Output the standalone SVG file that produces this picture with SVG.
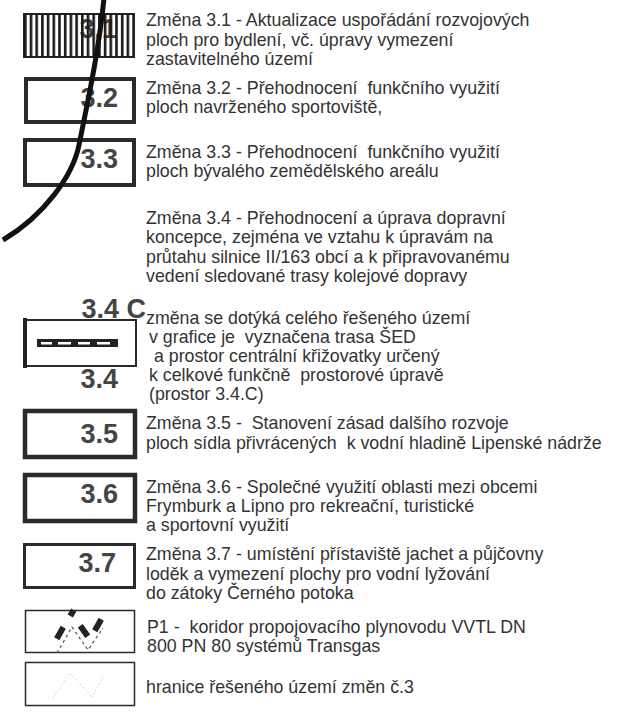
<svg xmlns="http://www.w3.org/2000/svg" width="621" height="713" viewBox="0 0 621 713">
<style>
.t{font-family:"Liberation Sans",Arial,sans-serif;font-size:17.8px;fill:#333;white-space:pre}
.n{font-family:"Liberation Sans",Arial,sans-serif;font-size:27px;font-weight:bold;fill:#444;text-anchor:end}
.b{fill:#fff;stroke:#2a2a2a}
</style>
<defs>
<pattern id="stripes" x="24" y="0" width="5.7" height="10" patternUnits="userSpaceOnUse">
<rect x="0" y="0" width="2.6" height="10" fill="#1a1a1a"/>
</pattern>
</defs>
<rect width="621" height="713" fill="#fff"/>

<g id="n31">
<rect x="24" y="14" width="110" height="43" fill="#fff" stroke="#222" stroke-width="2"/>
<text class="n" x="117" y="38">3.1</text>
<rect x="24" y="14" width="110" height="43" fill="url(#stripes)"/>
<text class="t" x="146" y="26">Změna 3.1 - Aktualizace uspořádání rozvojových</text>
<text class="t" x="146" y="46">ploch pro bydlení, vč. úpravy vymezení</text>
<text class="t" x="146" y="65">zastavitelného území</text>
</g>

<g id="n32">
<rect class="b" x="26" y="79" width="108" height="43" stroke-width="4"/>
<text class="n" x="118" y="107">3.2</text>
<text class="t" x="146" y="94">Změna 3.2 - Přehodnocení  funkčního využití</text>
<text class="t" x="146" y="113">ploch navrženého sportoviště,</text>
</g>

<g id="n33">
<rect class="b" x="25" y="140" width="109" height="45" stroke-width="4"/>
<text class="n" x="118" y="168">3.3</text>
<text class="t" x="146" y="158">Změna 3.3 - Přehodnocení  funkčního využití</text>
<text class="t" x="146" y="177">ploch bývalého zemědělského areálu</text>
</g>

<g id="n34">
<text class="t" x="146" y="224">Změna 3.4 - Přehodnocení a úprava dopravní</text>
<text class="t" x="146" y="243">koncepce, zejména ve vztahu k úpravám na</text>
<text class="t" x="146" y="263">průtahu silnice II/163 obcí a k připravovanému</text>
<text class="t" x="146" y="282">vedení sledované trasy kolejové dopravy</text>
</g>

<g id="n34c">
<rect class="b" x="25" y="320" width="111" height="46" stroke-width="2"/>
<line x1="25" y1="318" x2="25" y2="368" stroke="#222" stroke-width="4"/>
<rect x="37" y="339" width="81" height="8" fill="#222"/>
<rect x="41" y="342" width="11" height="2.5" fill="#fff"/>
<rect x="58" y="342" width="13" height="2.5" fill="#fff"/>
<rect x="78" y="342" width="12" height="2.5" fill="#fff"/>
<rect x="97" y="342" width="13" height="2.5" fill="#fff"/>
<text class="n" x="146" y="318">3.4 C</text>
<text class="n" x="118" y="388">3.4</text>
<text class="t" x="146" y="324">změna se dotýká celého řešeného území</text>
<text class="t" x="149" y="343">v grafice je  vyznačena trasa ŠED</text>
<text class="t" x="149" y="362"> a prostor centrální křižovatky určený</text>
<text class="t" x="149" y="381">k celkové funkčně  prostorové úpravě</text>
<text class="t" x="149" y="400">(prostor 3.4.C)</text>
</g>

<g id="n35">
<rect class="b" x="25" y="411" width="110" height="46" stroke-width="4.5"/>
<text class="n" x="118" y="443">3.5</text>
<text class="t" x="146" y="429">Změna 3.5 -  Stanovení zásad dalšího rozvoje</text>
<text class="t" x="146" y="449">ploch sídla přivrácených  k vodní hladině Lipenské nádrže</text>
</g>

<g id="n36">
<rect class="b" x="25" y="475" width="110" height="46" stroke-width="4.5"/>
<text class="n" x="118" y="503">3.6</text>
<text class="t" x="146" y="493">Změna 3.6 - Společné využití oblasti mezi obcemi</text>
<text class="t" x="146" y="512">Frymburk a Lipno pro rekreační, turistické</text>
<text class="t" x="146" y="531">a sportovní využití</text>
</g>

<g id="n37">
<rect class="b" x="24.5" y="544.5" width="110" height="43" stroke-width="3"/>
<text class="n" x="116" y="572">3.7</text>
<text class="t" x="146" y="560">Změna 3.7 - umístění přístaviště jachet a půjčovny</text>
<text class="t" x="146" y="580">loděk a vymezení plochy pro vodní lyžování</text>
<text class="t" x="146" y="599">do zátoky Černého potoka</text>
</g>

<g id="p1">
<rect class="b" x="25.5" y="610.5" width="109" height="42" stroke-width="1.5"/>
<path d="M57,653 L72,627 L88,650 L103,628" fill="none" stroke="#555" stroke-width="1.2" stroke-dasharray="3,3"/>
<rect x="-3" y="-6.5" width="6" height="13" fill="#222" transform="translate(60,633) rotate(30)"/>
<rect x="-3" y="-6.5" width="6" height="13" fill="#222" transform="translate(84,631) rotate(-35)"/>
<rect x="-3" y="-6.5" width="6" height="13" fill="#222" transform="translate(98,625) rotate(30)"/>
<rect x="-3" y="-3.5" width="6" height="7" fill="#222" transform="translate(72,613) rotate(30)"/>
<text class="t" x="147" y="633">P1 -  koridor propojovacího plynovodu VVTL DN</text>
<text class="t" x="147" y="652">800 PN 80 systémů Transgas</text>
</g>

<g id="hranice">
<rect class="b" x="25.5" y="662.5" width="109" height="43" stroke-width="1.5"/>
<path d="M53,698 L70,673 L92,697 L103,677" fill="none" stroke="#bbb" stroke-width="1" stroke-dasharray="1,2.5"/>
<text class="t" x="146" y="693">hranice řešeného území změn č.3</text>
</g>

<g id="connectors">
<path d="M104,-2 C99,50 88,100 79,145 C73,175 45,215 3,240" fill="none" stroke="#111" stroke-width="5"/>
</g>
</svg>
